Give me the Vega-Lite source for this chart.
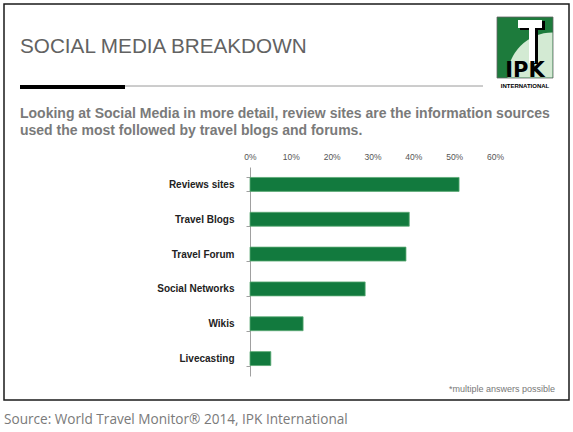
{
  "$schema": "https://vega.github.io/schema/vega-lite/v6.json",
  "autosize": "none",
  "width": 245,
  "height": 209,
  "padding": {"left": 250, "top": 167, "right": 78, "bottom": 56},
  "background": "white",
  "config": {
    "view": {"stroke": null},
    "font": "Liberation Sans"
  },
  "data": {
    "values": [
      {"source": "Reviews sites", "share": 51.2},
      {"source": "Travel Blogs", "share": 39.0},
      {"source": "Travel Forum", "share": 38.2},
      {"source": "Social Networks", "share": 28.2},
      {"source": "Wikis", "share": 13.0},
      {"source": "Livecasting", "share": 5.1}
    ]
  },
  "layer": [
    {
      "mark": {"type": "bar", "fill": "#127a3e", "stroke": "#5aaa74", "strokeWidth": 0.8},
      "encoding": {
        "y": {
          "field": "source", "type": "nominal", "sort": null,
          "scale": {"paddingInner": 0.6, "paddingOuter": 0.3},
          "axis": {
            "title": null, "orient": "left",
            "domainColor": "#a0a0a0", "tickColor": "#a0a0a0", "tickSize": 4,
            "tickBand": "extent",
            "labelFontSize": 10, "labelFontWeight": "bold", "labelColor": "#222222",
            "labelPadding": 12
          }
        },
        "x": {
          "field": "share", "type": "quantitative",
          "scale": {"domain": [0, 60], "nice": false},
          "axis": {
            "title": null, "orient": "top", "values": [0, 10, 20, 30, 40, 50, 60],
            "labelExpr": "datum.value + '%'", "labelFlush": false,
            "domain": false, "ticks": false, "tickSize": 0, "grid": false,
            "labelFontSize": 8.5, "labelColor": "#555555", "labelPadding": 6
          }
        }
      }
    },
    {
      "data": {"values": [{}]},
      "mark": {"type": "rect", "fill": null, "stroke": "#1a1a1a", "strokeWidth": 1.5},
      "encoding": {"x": {"value": -246}, "x2": {"value": 319}, "y": {"value": -163}, "y2": {"value": 233}}
    },
    {
      "data": {"values": [{}]},
      "mark": {"type": "text", "text": "SOCIAL MEDIA BREAKDOWN", "fontSize": 20.7, "color": "#626262", "align": "left", "baseline": "alphabetic"},
      "encoding": {"x": {"value": -230}, "y": {"value": -114}}
    },
    {
      "data": {"values": [{}]},
      "mark": {"type": "rule", "stroke": "#9a9a9a", "strokeWidth": 1},
      "encoding": {"x": {"value": -230}, "x2": {"value": 233}, "y": {"value": -81}}
    },
    {
      "data": {"values": [{}]},
      "mark": {"type": "rule", "stroke": "#000000", "strokeWidth": 4},
      "encoding": {"x": {"value": -230}, "x2": {"value": -125}, "y": {"value": -80}}
    },
    {
      "data": {"values": [{}]},
      "mark": {"type": "text", "text": ["Looking at Social Media in more detail, review sites are the information sources", "used the most followed by travel blogs and forums."], "fontSize": 14, "fontWeight": "bold", "color": "#7a7a7a", "align": "left", "baseline": "alphabetic", "lineHeight": 17},
      "encoding": {"x": {"value": -230}, "y": {"value": -49}}
    },
    {
      "data": {"values": [{}]},
      "mark": {"type": "rect", "fill": "#1d7b3c", "stroke": "#666666", "strokeWidth": 0.8},
      "encoding": {"x": {"value": 247}, "x2": {"value": 303}, "y": {"value": -150}, "y2": {"value": -89}}
    },
    {
      "data": {"values": [{}]},
      "mark": {"type": "arc", "fill": "#d3ead3", "theta": 4.712, "theta2": 6.283, "outerRadius": 45, "innerRadius": 0},
      "encoding": {"x": {"value": 302.5}, "y": {"value": -89.5}}
    },
    {
      "data": {"values": [{}]},
      "mark": {"type": "rect", "fill": "#000000"},
      "encoding": {"x": {"value": 270}, "x2": {"value": 295}, "y": {"value": -146}, "y2": {"value": -137}}
    },
    {
      "data": {"values": [{}]},
      "mark": {"type": "rect", "fill": "#000000"},
      "encoding": {"x": {"value": 281}, "x2": {"value": 288}, "y": {"value": -139}, "y2": {"value": -103}}
    },
    {
      "data": {"values": [{}]},
      "mark": {"type": "rect", "fill": "#ffffff"},
      "encoding": {"x": {"value": 268}, "x2": {"value": 292}, "y": {"value": -147}, "y2": {"value": -139}}
    },
    {
      "data": {"values": [{}]},
      "mark": {"type": "rect", "fill": "#ffffff"},
      "encoding": {"x": {"value": 279}, "x2": {"value": 285}, "y": {"value": -139}, "y2": {"value": -104}}
    },
    {
      "data": {"values": [{}]},
      "mark": {"type": "text", "text": "IPK", "font": "DejaVu Sans", "fontSize": 21, "fontWeight": "bold", "color": "#000000", "align": "center", "baseline": "alphabetic"},
      "encoding": {"x": {"value": 275}, "y": {"value": -90}}
    },
    {
      "data": {"values": [{}]},
      "mark": {"type": "text", "text": "INTERNATIONAL", "fontSize": 6, "fontWeight": "bold", "color": "#000000", "align": "center", "baseline": "alphabetic"},
      "encoding": {"x": {"value": 275}, "y": {"value": -79}}
    },
    {
      "data": {"values": [{}]},
      "mark": {"type": "text", "text": "*multiple answers possible", "fontSize": 9, "color": "#777777", "align": "right", "baseline": "alphabetic"},
      "encoding": {"x": {"value": 305}, "y": {"value": 225}}
    },
    {
      "data": {"values": [{}]},
      "mark": {"type": "text", "text": "Source: World Travel Monitor® 2014, IPK International", "font": "Open Sans", "fontSize": 13.6, "color": "#7a7a7a", "align": "left", "baseline": "alphabetic"},
      "encoding": {"x": {"value": -246}, "y": {"value": 257}}
    }
  ]
}
